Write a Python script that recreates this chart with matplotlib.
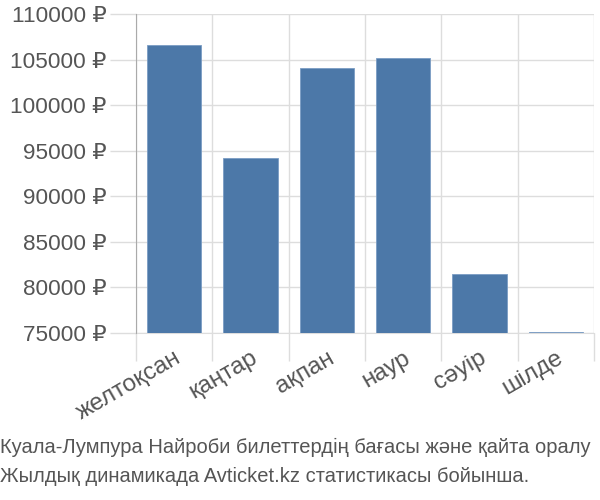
import matplotlib
matplotlib.use("Agg")
import matplotlib.pyplot as plt

categories = ["желтоқсан", "қаңтар", "ақпан", "наур", "сәуір", "шілде"]
values = [106650, 94200, 104050, 105200, 81500, 75100]
yticks = [75000, 80000, 85000, 90000, 95000, 100000, 105000, 110000]
caption = ["Куала-Лумпура Найроби билеттердің бағасы және қайта оралу",
           "Жылдық динамикада Avticket.kz статистикасы бойынша."]

plt.rcParams['font.family'] = ['Liberation Sans', 'DejaVu Sans']

fig = plt.figure(figsize=(6, 5), dpi=100)
ax = fig.add_axes([136/600, 1-333/500, (594-136)/600, (333-14)/500])

x = list(range(len(categories)))
ax.bar(x, values, width=0.71, color='#4c78a8', edgecolor='#7a9cc4', linewidth=0.6, zorder=3)

ax.set_xlim(-0.5, len(categories)-0.5)
ax.set_ylim(75000, 110000)
ax.set_yticks(yticks)
ax.set_yticklabels([f"{v} ₽" for v in yticks], fontsize=16.2, color='#555555')
ax.set_xticks(x)
ax.set_xticklabels(categories, rotation=30, ha='right', rotation_mode='anchor',
                   fontsize=17.5, color='#555555')
ax.set_xticks([i-0.5 for i in range(len(categories)+1)], minor=True)
ax.tick_params(axis='x', which='major', length=0, pad=10)
ax.tick_params(axis='x', which='minor', length=20, color='#dddddd', width=1)
ax.tick_params(axis='y', length=19, color='#dddddd', width=1, pad=2)
ax.grid(True, which='minor', axis='x', color='#dddddd', linewidth=1, zorder=0)
ax.grid(True, which='major', axis='y', color='#dddddd', linewidth=1, zorder=0)
for s in ['top', 'right']:
    ax.spines[s].set_visible(False)
ax.spines['bottom'].set_color('#dddddd')
ax.spines['left'].set_color('#aaaaaa')
ax.spines['left'].set_zorder(4)

fig.text(0.0, 1-447/500, caption[0], fontsize=14.5, color='#555555', va='center', ha='left')
fig.text(0.0, 1-476/500, caption[1], fontsize=14.5, color='#555555', va='center', ha='left')

fig.savefig("out.png", dpi=100)
